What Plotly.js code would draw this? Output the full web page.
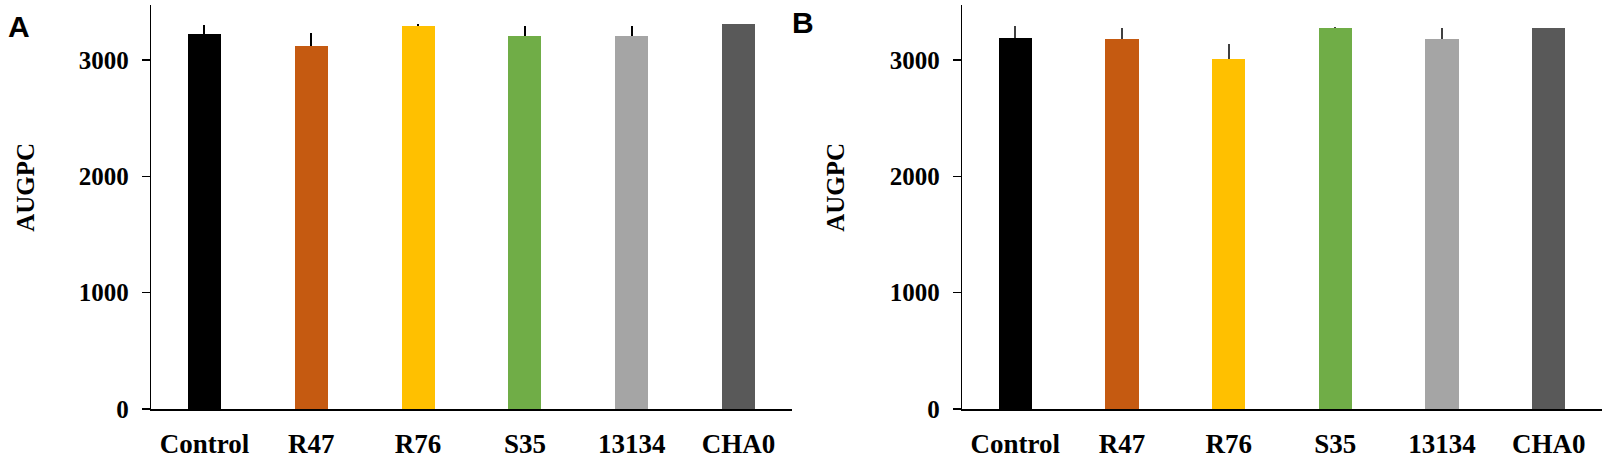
<!DOCTYPE html>
<html>
<head>
<meta charset="utf-8">
<script src="https://cdn.plot.ly/plotly-3.0.1.min.js"></script>
<style>html,body{margin:0;padding:0;background:#fff;}#chart{width:1610px;height:463px;}</style>
</head>
<body>
<div id="chart"></div>
<script>
const categories = ["Control", "R47", "R76", "S35", "13134", "CHA0"];
const barColors = ["#000000", "#C55A11", "#FFC000", "#70AD47", "#A5A5A5", "#595959"];
const valuesA = [3220, 3123, 3294, 3208, 3208, 3311];
const errorsA = [80, 111, 12, 86, 86, 0];
const valuesB = [3186, 3178, 3009, 3275, 3178, 3275];
const errorsB = [106, 94, 126, 8, 94, 0];
const yTickVals = [0, 1000, 2000, 3000];
const yTickText = ["0", "1000", "2000", "3000"];
const panelLabels = ["A", "B"];
const yTitle = "AUGPC";

const zeros = categories.map(() => 0);
function barTrace(vals, errs, xa, ya, errColor) {
  return {
    type: "bar", x: categories, y: vals, xaxis: xa, yaxis: ya,
    width: 0.31,
    marker: { color: barColors, line: { width: 0 } },
    error_y: { type: "data", symmetric: false, array: errs, arrayminus: zeros,
               width: 0, thickness: 2, color: errColor },
    hoverinfo: "skip", showlegend: false
  };
}

const serifBold = { family: "Liberation Serif, Times New Roman, serif", size: 25, color: "#000", weight: "bold" };
function yAxis(anchor) {
  return {
    anchor: anchor, domain: [0, 1], range: [0, 3472], autorange: false,
    tickvals: yTickVals, ticktext: yTickText, ticks: "outside", ticklen: 8,
    tickwidth: 1.3, tickcolor: "#000", showgrid: false, zeroline: false,
    showline: true, linecolor: "#000", linewidth: 1.3,
    tickfont: serifBold, ticklabelstandoff: 8
  };
}
function xAxis(anchor, domain) {
  return {
    anchor: anchor, domain: domain, range: [-0.5, 5.5], autorange: false,
    type: "category", showgrid: false, zeroline: false, ticks: "",
    showline: true, linecolor: "#000", linewidth: 2,
    tickfont: { family: "Liberation Serif, Times New Roman, serif", size: 27, color: "#000", weight: "bold" },
    ticklabelstandoff: 10
  };
}

const data = [
  barTrace(valuesA, errorsA, "x", "y", "#000000"),
  barTrace(valuesB, errorsB, "x2", "y2", "#404040")
];

const sansBold = { family: "Liberation Sans, Arial, sans-serif", size: 30, color: "#000", weight: "bold" };
const titleFont = { family: "Liberation Serif, Times New Roman, serif", size: 25, color: "#000", weight: "bold" };
const layout = {
  width: 1610, height: 463,
  margin: { l: 0, r: 0, t: 5, b: 53.5 },
  paper_bgcolor: "#fff", plot_bgcolor: "rgba(0,0,0,0)",
  xaxis: xAxis("y", [151 / 1610, 792 / 1610]),
  yaxis: yAxis("x"),
  xaxis2: xAxis("y2", [962 / 1610, 1602 / 1610]),
  yaxis2: yAxis("x2"),
  bargap: 0,
  annotations: [
    { text: "<b>" + panelLabels[0] + "</b>", xref: "paper", yref: "paper", x: 18.5 / 1610, y: 1 - 22 / 404.5,
      xanchor: "center", yanchor: "middle", showarrow: false, font: sansBold },
    { text: "<b>" + panelLabels[1] + "</b>", xref: "paper", yref: "paper", x: 803 / 1610, y: 1 - 18 / 404.5,
      xanchor: "center", yanchor: "middle", showarrow: false, font: sansBold },
    { text: "<b>" + yTitle + "</b>", xref: "paper", yref: "paper", x: 26 / 1610, y: 1 - 183 / 404.5,
      xanchor: "center", yanchor: "middle", textangle: -90, showarrow: false, font: titleFont },
    { text: "<b>" + yTitle + "</b>", xref: "paper", yref: "paper", x: 836 / 1610, y: 1 - 183 / 404.5,
      xanchor: "center", yanchor: "middle", textangle: -90, showarrow: false, font: titleFont }
  ]
};

Plotly.newPlot("chart", data, layout, { staticPlot: true, displayModeBar: false });
</script>
</body>
</html>
